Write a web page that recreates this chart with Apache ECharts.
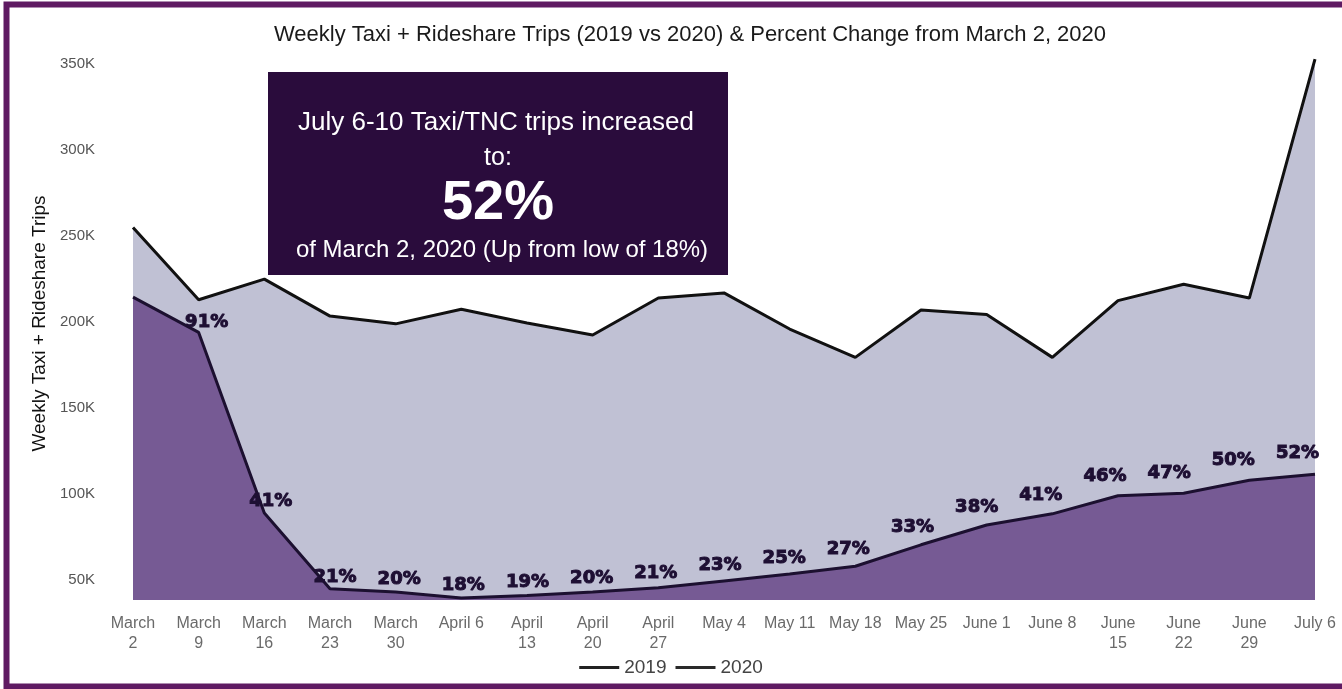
<!DOCTYPE html>
<html>
<head>
<meta charset="utf-8">
<script src="https://cdn.jsdelivr.net/npm/echarts@6/dist/echarts.min.js"></script>
<style>
html,body{margin:0;padding:0;background:#fff;}
#chart{width:1342px;height:689px;}
</style>
</head>
<body>
<div id="chart"></div>
<script>
// Categories (week starting)
const weeks = ['March\n2','March\n9','March\n16','March\n23','March\n30','April 6','April\n13','April\n20','April\n27','May 4','May 11','May 18','May 25','June 1','June 8','June\n15','June\n22','June\n29','July 6'];
// Weekly trips, thousands
const trips2019 = [255, 213, 225, 203.5, 199, 207.5, 199.5, 192.5, 214, 217, 196, 179.5, 207, 204.5, 179.5, 212.5, 222, 214, 353];
const trips2020 = [214.5, 194, 89, 45, 43, 39.5, 41, 43, 45.5, 49.5, 53.5, 58, 70.5, 82, 88.5, 99, 100.5, 108, 111.5];
// Percent of March 2, 2020 labels
const pctLabels = ['', '91%', '41%', '21%', '20%', '18%', '19%', '20%', '21%', '23%', '25%', '27%', '33%', '38%', '41%', '46%', '47%', '50%', '52%'];
// Y-axis tick labels (thousands)
const yTicks = [50, 100, 150, 200, 250, 300, 350];

const chart = echarts.init(document.getElementById('chart'));
const FONT = 'Liberation Sans, Arial, sans-serif';

const data2020 = trips2020.map((v, i) => ({
  value: v,
  label: {
    show: pctLabels[i] !== '',
    offset: [9.5 - 1.5 * i, 0],
    distance: 1 + 0.6 * i
  }
}));

chart.setOption({
  animation: false,
  backgroundColor: '#ffffff',
  title: {
    text: 'Weekly Taxi + Rideshare Trips (2019 vs 2020) & Percent Change from March 2, 2020',
    left: 685, top: 19, textAlign: 'center',
    textStyle: { fontFamily: FONT, fontSize: 22, fontWeight: 'normal', color: '#1a1a1a' }
  },
  legend: {
    bottom: 7, left: 'center',
    data: [{ name: '2019', icon: 'rect' }, { name: '2020', icon: 'rect' }],
    itemWidth: 40, itemHeight: 3, itemGap: 9,
    textStyle: { fontFamily: FONT, fontSize: 19, color: '#444' }
  },
  grid: { left: 133, right: 27, top: 47, bottom: 89 },
  xAxis: {
    type: 'category',
    data: weeks,
    boundaryGap: false,
    axisLine: { show: false },
    axisTick: { show: false },
    axisLabel: { interval: 0, margin: 14, fontFamily: FONT, fontSize: 16, color: '#6a6a6a', lineHeight: 20 }
  },
  yAxis: {
    type: 'value',
    min: 38.4, max: 360,
    name: 'Weekly Taxi + Rideshare Trips',
    nameLocation: 'middle', nameGap: 82,
    nameTextStyle: { fontFamily: FONT, fontSize: 19, color: '#111' },
    axisLine: { show: false },
    axisTick: { show: false },
    splitLine: { show: false },
    axisLabel: {
      customValues: yTicks,
      formatter: v => v + 'K',
      margin: 38,
      fontFamily: FONT, fontSize: 15, color: '#555'
    }
  },
  series: [
    {
      name: '2019', type: 'line', data: trips2019,
      symbol: 'none',
      lineStyle: { color: '#111111', width: 3 },
      itemStyle: { color: '#222222' },
      areaStyle: { color: '#c0c1d4', opacity: 1, origin: 'start' },
      z: 2
    },
    {
      name: '2020', type: 'line', data: data2020,
      symbol: 'circle', symbolSize: 0, showSymbol: true,
      lineStyle: { color: '#1c1030', width: 3 },
      itemStyle: { color: '#2a2a2a' },
      areaStyle: { color: '#765a94', opacity: 1, origin: 'start' },
      label: {
        show: true, position: 'top',
        formatter: p => pctLabels[p.dataIndex],
        fontFamily: 'DejaVu Sans, sans-serif', fontWeight: 'bold', fontSize: 18, color: '#1e0f33',
        textBorderColor: '#1e0f33', textBorderWidth: 1
      },
      z: 3
    }
  ],
  graphic: [
    {
      type: 'rect', z: 100,
      shape: { x: 268, y: 72, width: 460, height: 203 },
      style: { fill: '#2a0c3c' }
    },
    {
      type: 'text', z: 101, x: 496, y: 123,
      style: { text: 'July 6-10 Taxi/TNC trips increased', fill: '#fff', font: '26px Liberation Sans, Arial, sans-serif', textAlign: 'center', textVerticalAlign: 'middle' }
    },
    {
      type: 'text', z: 101, x: 498, y: 158,
      style: { text: 'to:', fill: '#fff', font: '25px Liberation Sans, Arial, sans-serif', textAlign: 'center', textVerticalAlign: 'middle' }
    },
    {
      type: 'text', z: 101, x: 498, y: 204,
      style: { text: '52%', fill: '#fff', font: 'bold 56px Liberation Sans, Arial, sans-serif', textAlign: 'center', textVerticalAlign: 'middle' }
    },
    {
      type: 'text', z: 101, x: 502, y: 250,
      style: { text: 'of March 2, 2020 (Up from low of 18%)', fill: '#fff', font: '24px Liberation Sans, Arial, sans-serif', textAlign: 'center', textVerticalAlign: 'middle' }
    },
    {
      type: 'rect', z: 200, silent: true,
      shape: { x: 6.5, y: 4.5, width: 1345, height: 682 },
      style: { fill: 'none', stroke: '#5f1a62', lineWidth: 6 }
    }
  ]
});
</script>
</body>
</html>
